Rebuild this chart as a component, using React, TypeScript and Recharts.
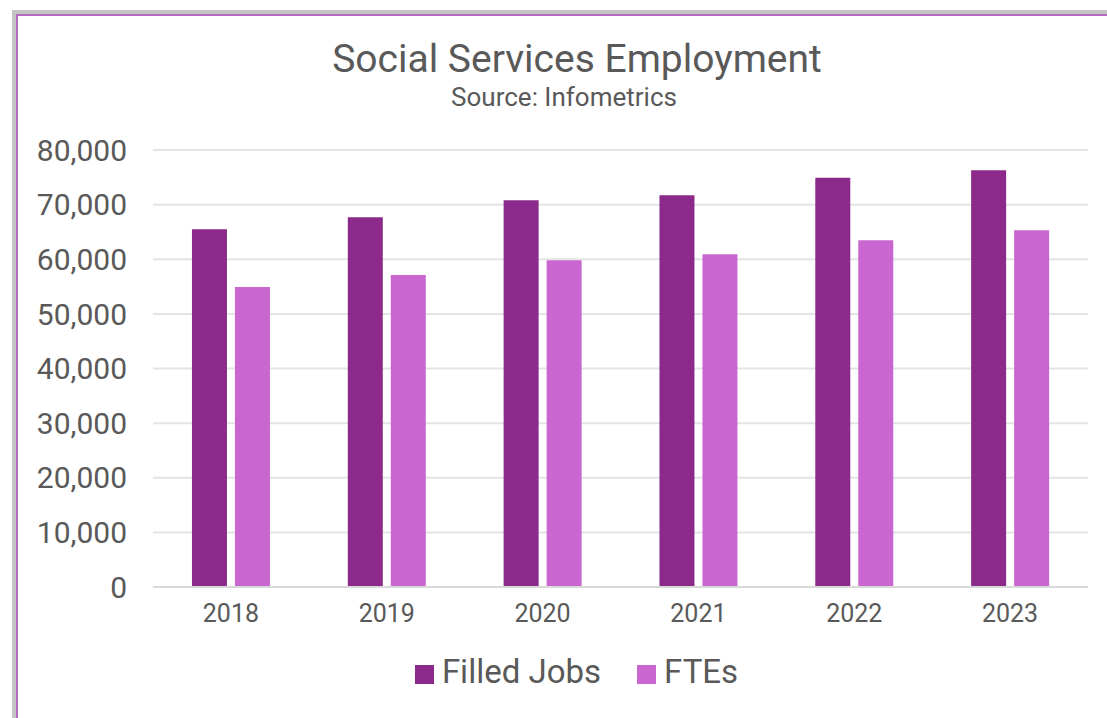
import { BarChart, Bar, XAxis, YAxis, CartesianGrid, Legend } from 'recharts';

const years = ['2018', '2019', '2020', '2021', '2022', '2023'];
const filledJobs = [65500, 67700, 70800, 71700, 74900, 76300];
const ftes = [54900, 57100, 59800, 60900, 63500, 65300];
const yTicks = [0, 10000, 20000, 30000, 40000, 50000, 60000, 70000, 80000];

const data = years.map((year, i) => ({ year, filled: filledJobs[i], fte: ftes[i] }));

const textColor = '#595959';

const App = () => {
  return (
    <div style={{ position: 'fixed', left: 0, top: 0, width: 1107, height: 718, background: '#fff', overflow: 'hidden', fontFamily: 'Roboto, sans-serif' }}>
      <div style={{ position: 'absolute', left: 12, top: 10, width: 1200, height: 800, borderTop: '4px solid #c4c4c4', borderLeft: '4px solid #c4c4c4' }} />
      <div style={{ position: 'absolute', left: 16, top: 14, width: 1200, height: 800, borderTop: '2px solid #b56ac1', borderLeft: '2px solid #b56ac1' }} />
      <div style={{ position: 'absolute', left: 0, width: 1154, top: 35, textAlign: 'center', color: textColor, fontSize: 39, lineHeight: '48px' }}>
        Social Services Employment
      </div>
      <div style={{ position: 'absolute', left: 0, width: 1128, top: 82, textAlign: 'center', color: textColor, fontSize: 26, lineHeight: '30px' }}>
        Source: Infometrics
      </div>
      <div style={{ position: 'absolute', left: 0, top: 0 }}>
        <BarChart
          width={1107}
          height={718}
          data={data}
          margin={{ top: 150, right: 19, left: 0, bottom: 62 }}
          barCategoryGap="25%"
          barGap={8}
        >
          <CartesianGrid vertical={false} stroke="#e4e4e4" strokeWidth={2} />
          <XAxis
            dataKey="year"
            tickLine={false}
            axisLine={{ stroke: '#d9d9d9', strokeWidth: 2 }}
            tick={{ fill: textColor, fontSize: 25 }}
            tickMargin={11}
          />
          <YAxis
            width={153}
            domain={[0, 80000]}
            ticks={yTicks}
            tickLine={false}
            axisLine={false}
            tick={{ fill: textColor, fontSize: 30 }}
            tickMargin={20}
            tickFormatter={(v: number) => v.toLocaleString('en-US')}
          />
          <Legend
            verticalAlign="bottom"
            iconType="square"
            iconSize={19}
            itemSorter={null as any}
            wrapperStyle={{ fontSize: 33, color: textColor, left: 0, width: 1189, top: 652, bottom: 'auto' }}
            formatter={(value: string) => (
              <span style={{ color: textColor, marginLeft: 4, marginRight: 26 }}>{value}</span>
            )}
          />
          <Bar dataKey="filled" name="Filled Jobs" fill="#8b2a8b" isAnimationActive={false} />
          <Bar dataKey="fte" name="FTEs" fill="#c966cf" isAnimationActive={false} />
        </BarChart>
      </div>
    </div>
  );
};

export default App;
